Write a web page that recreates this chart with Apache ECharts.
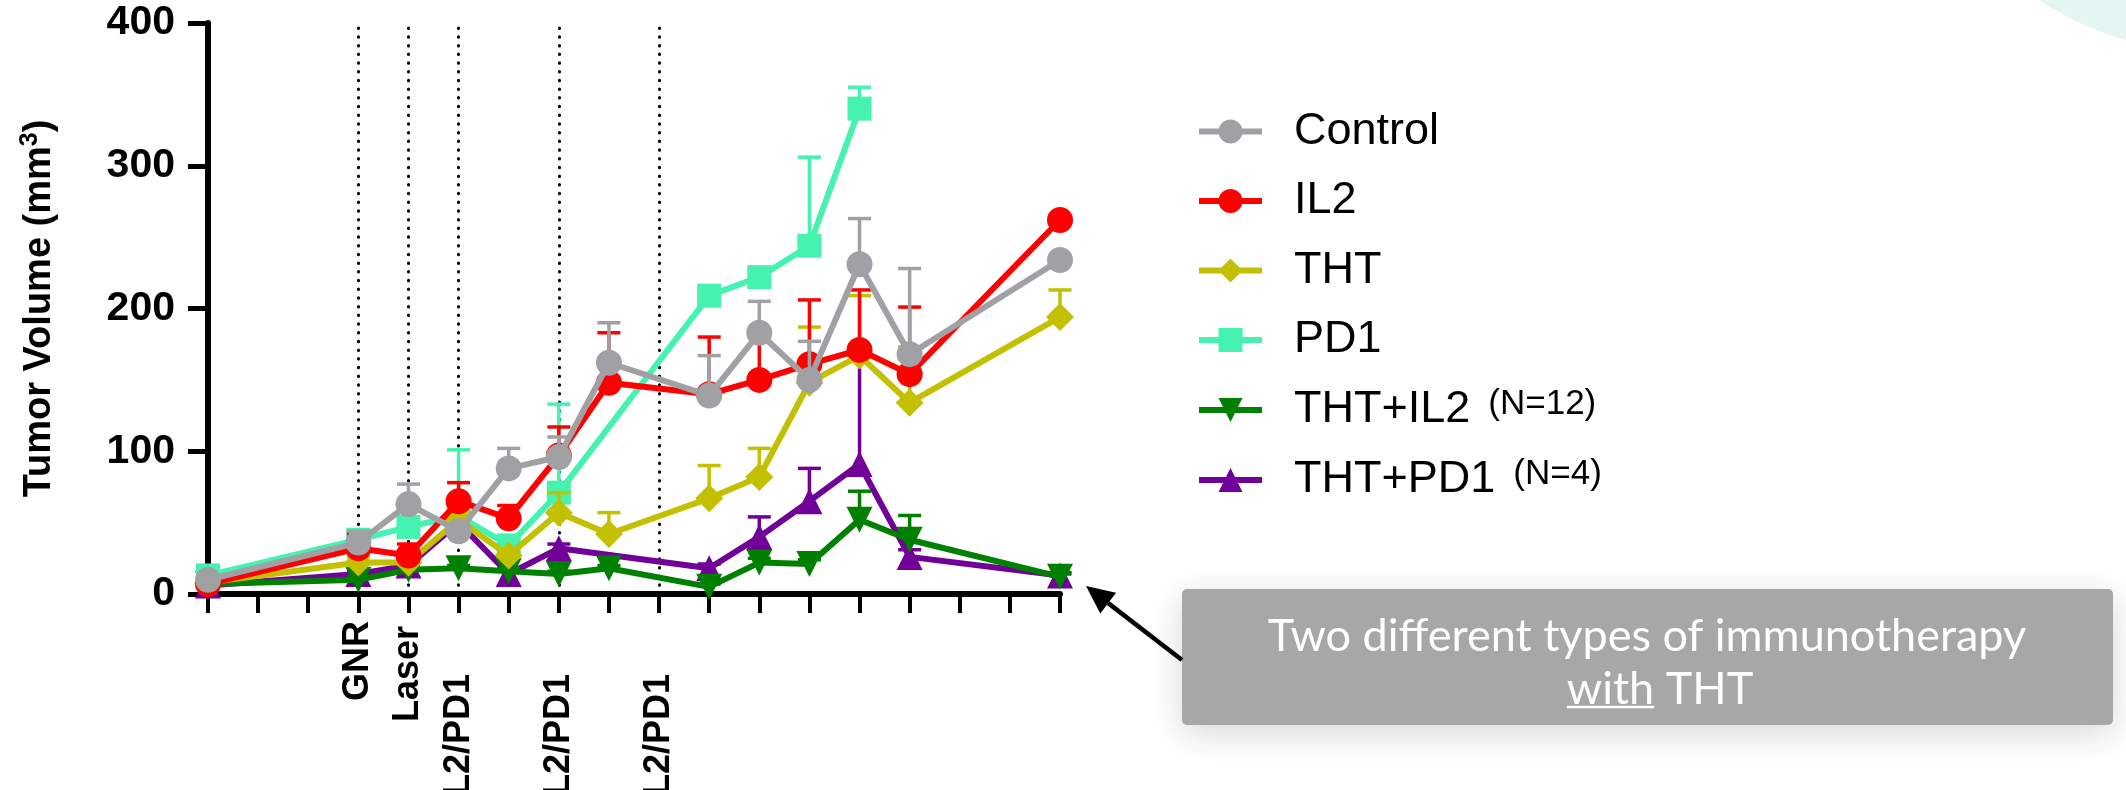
<!DOCTYPE html>
<html><head><meta charset="utf-8">
<script src="https://cdn.jsdelivr.net/npm/echarts@6/dist/echarts.min.js"></script>
<style>html,body{margin:0;padding:0;background:#fff}#c{width:2126px;height:790px}</style>
</head><body><div id="c"></div>
<script>
// ---- data (days after start) ----
const days = [0, 3, 4, 5, 6, 7, 8, 10, 11, 12, 13, 14, 17];
const seriesNames = ['Control', 'IL2', 'THT', 'PD1', 'THT+IL2', 'THT+PD1'];
const controlMean = [10, 36, 63, 44, 88, 96, 162, 139, 183, 150, 231, 168, 234];
const controlSem  = [0, 8, 14, 5, 14, 14, 28, 28, 22, 27, 32, 60, 0];
const il2Mean     = [7, 32, 27, 65, 53, 97, 148, 140, 150, 161, 171, 154, 262];
const il2Sem      = [0, 10, 8, 13, 9, 20, 35, 40, 30, 45, 42, 47, 0];
const thtMean     = [8, 22, 22, 52, 27, 57, 42, 67, 82, 148, 167, 134, 194];
const thtSem      = [0, 4, 4, 6, 4, 14, 15, 23, 20, 39, 42, 39, 19];
const pd1Mean     = [13, 38, 47, 55, 34, 71, null, 209, 222, 244, 340, null, null];
const pd1Sem      = [0, 6, 6, 46, 4, 62, null, 0, 0, 62, 15, null, null];
const thtIl2Mean  = [7, 10, 17, 18, 16, 14, 18, 5, 22, 21, 52, 38, 12];
const thtIl2Sem   = [0, 2, 2, 2, 2, 2, 2, 2, 3, 3, 20, 17, 2];
const thtPd1Mean  = [6, 14, 20, 50, 14, 32, null, 18, 40, 65, 91, 26, 13];
const thtPd1Sem   = [0, 2, 3, 4, 2, 3, null, 3, 14, 23, 76, 5, 2];
const legendNotes = {'THT+IL2': '(N=12)', 'THT+PD1': '(N=4)'};
// treatment markers on the x axis
const treatDays = [3, 4, 5, 7, 9];
const treatLabels = ['GNR', 'Laser', 'IL2/PD1', 'IL2/PD1', 'IL2/PD1'];
const yTicks = [0, 100, 200, 300, 400];

const means = [controlMean, il2Mean, thtMean, pd1Mean, thtIl2Mean, thtPd1Mean];
const sems = [controlSem, il2Sem, thtSem, pd1Sem, thtIl2Sem, thtPd1Sem];
const colors = ['#a1a1a5', '#ff0000', '#c2c000', '#45f2b0', '#008000', '#700098'];
const symbols = ['circle', 'circle', 'diamond', 'rect', 'triangle', 'triangle'];
const symbolSizes = [26, 26, 28, 24, 26, 26];
const symbolRot = [0, 0, 0, 0, 180, 0];
const LW = 6;

const chart = echarts.init(document.getElementById('c'));
const series = [];
seriesNames.forEach((name, i) => {
  const pts = [], errs = [];
  days.forEach((d, j) => {
    if (means[i][j] != null) {
      pts.push([d, means[i][j]]);
      errs.push([d, means[i][j], sems[i][j]]);
    }
  });
  const zBase = 20 - i * 2;
  series.push({
    type: 'custom', name: name + '-err', z: zBase - 1, silent: true,
    data: errs, clip: false,
    renderItem: function (params, api) {
      const x = api.value(0), m = api.value(1), s = api.value(2);
      if (!s) return null;
      const p0 = api.coord([x, m]);
      const p1 = api.coord([x, m + s]);
      const st = {stroke: colors[i], lineWidth: 3.5};
      return {type: 'group', children: [
        {type: 'line', shape: {x1: p0[0], y1: p0[1], x2: p1[0], y2: p1[1]}, style: st},
        {type: 'line', shape: {x1: p1[0] - 11.5, y1: p1[1], x2: p1[0] + 11.5, y2: p1[1]}, style: st}
      ]};
    }
  });
  const s = {
    type: 'line', name: name, data: pts, z: zBase, clip: false,
    symbol: symbols[i], symbolSize: symbolSizes[i], symbolRotate: symbolRot[i],
    showAllSymbol: true,
    lineStyle: {color: colors[i], width: LW},
    itemStyle: {color: colors[i], opacity: 1},
    emphasis: {disabled: true}
  };
  if (i === 0) {
    s.markLine = {
      silent: true, symbol: 'none', z: 1,
      label: {show: false},
      lineStyle: {color: '#000', width: 3, type: [0.5, 8.2], cap: 'round'},
      emphasis: {disabled: true},
      data: treatDays.map(d => ({xAxis: d}))
    };
  }
  series.push(s);
});

const labelPad = {g: 0, l: 5, p: 53};
function xLabel(v) {
  const k = treatDays.indexOf(v);
  if (k < 0) return '';
  const t = treatLabels[k];
  const key = t === 'GNR' ? 'g' : (t === 'Laser' ? 'l' : 'p');
  return '{' + key + '|' + t + '}';
}
const xRich = {};
Object.keys(labelPad).forEach(k => {
  xRich[k] = {fontFamily: 'Liberation Sans', fontWeight: 'bold', fontSize: 36, color: '#000',
              padding: [0, labelPad[k], 0, 0]};
});

// arrow geometry
const tail = [1182, 660], tip = [1086, 586];
const dx = tip[0] - tail[0], dy = tip[1] - tail[1], len = Math.hypot(dx, dy);
const ux = dx / len, uy = dy / len, hl = 28, hw = 13;
const bx = tip[0] - ux * hl, by = tip[1] - uy * hl;
const head = [[tip[0], tip[1]], [bx - uy * hw, by + ux * hw], [bx + uy * hw, by - ux * hw]];

const ctx = document.createElement('canvas').getContext('2d');
const boxFont = '45px Lato';
ctx.font = boxFont;
const line2 = 'with THT';
const w2 = ctx.measureText(line2).width, wWith = ctx.measureText('with').width;
const l2x = 1660 - w2 / 2;

chart.setOption({
  animation: false,
  grid: {left: 208, right: 1066, top: 23, bottom: 196, containLabel: false, outerBoundsMode: 'none'},
  xAxis: {
    type: 'value', min: 0, max: 17, interval: 1,
    axisLine: {show: true, lineStyle: {color: '#000', width: 6}},
    axisTick: {show: true, length: 19, lineStyle: {color: '#000', width: 4}},
    splitLine: {show: false},
    axisLabel: {show: true, rotate: 90, margin: 27, formatter: xLabel, rich: xRich,
                showMinLabel: true, showMaxLabel: true, hideOverlap: false}
  },
  yAxis: {
    type: 'value', min: yTicks[0], max: yTicks[yTicks.length - 1], interval: 100,
    axisLine: {show: true, lineStyle: {color: '#000', width: 6}},
    axisTick: {show: true, length: 20, lineStyle: {color: '#000', width: 5}},
    splitLine: {show: false},
    axisLabel: {margin: 33, fontFamily: 'Liberation Sans', fontWeight: 'bold', fontSize: 41, color: '#000'},
    name: '{a|Tumor Volume (mm}{s|3}{a|)}',
    nameLocation: 'middle', nameGap: 146,
    nameTextStyle: {rich: {
      a: {fontFamily: 'Liberation Sans', fontWeight: 'bold', fontSize: 38, color: '#000', lineHeight: 44},
      s: {fontFamily: 'Liberation Sans', fontWeight: 'bold', fontSize: 25, color: '#000', verticalAlign: 'top', lineHeight: 44}
    }}
  },
  legend: {
    orient: 'vertical', left: 1191, top: 104, selectedMode: false,
    data: seriesNames, itemWidth: 63, itemHeight: 30, itemGap: 24.5,
    lineStyle: {width: LW},
    formatter: function (name) {
      return legendNotes[name] ? '{a|' + name + '}{n|' + legendNotes[name] + '}' : '{a|' + name + '}';
    },
    textStyle: {
      padding: [0, 0, 0, 27],
      rich: {
        a: {fontFamily: 'Liberation Sans', fontSize: 45, color: '#000', lineHeight: 46},
        n: {fontFamily: 'Liberation Sans', fontSize: 35, color: '#000', lineHeight: 46,
            verticalAlign: 'top', padding: [0, 0, 0, 18]}
      }
    }
  },
  series: series,
  graphic: [
    {type: 'circle', silent: true, shape: {cx: 2215, cy: -265, r: 318}, style: {fill: '#e4f6f2'}},
    {type: 'rect', silent: true, shape: {x: 1182, y: 589, width: 931, height: 136, r: 5},
     style: {fill: '#a7a7a7', shadowBlur: 34, shadowColor: 'rgba(0,0,0,0.16)', shadowOffsetY: 8}},
    {type: 'text', silent: true, style: {text: 'Two different types of immunotherapy', x: 1647, y: 636,
      align: 'center', verticalAlign: 'middle', fill: '#ffffff', font: boxFont}},
    {type: 'text', silent: true, style: {text: line2, x: l2x, y: 689,
      align: 'left', verticalAlign: 'middle', fill: '#ffffff', font: boxFont}},
    {type: 'line', silent: true, shape: {x1: l2x, y1: 707, x2: l2x + wWith, y2: 707},
     style: {stroke: '#ffffff', lineWidth: 2.5}},
    {type: 'line', silent: true, shape: {x1: tail[0], y1: tail[1], x2: bx, y2: by},
     style: {stroke: '#000', lineWidth: 4.5}},
    {type: 'polygon', silent: true, shape: {points: head}, style: {fill: '#000'}}
  ]
});
</script>
</body></html>
